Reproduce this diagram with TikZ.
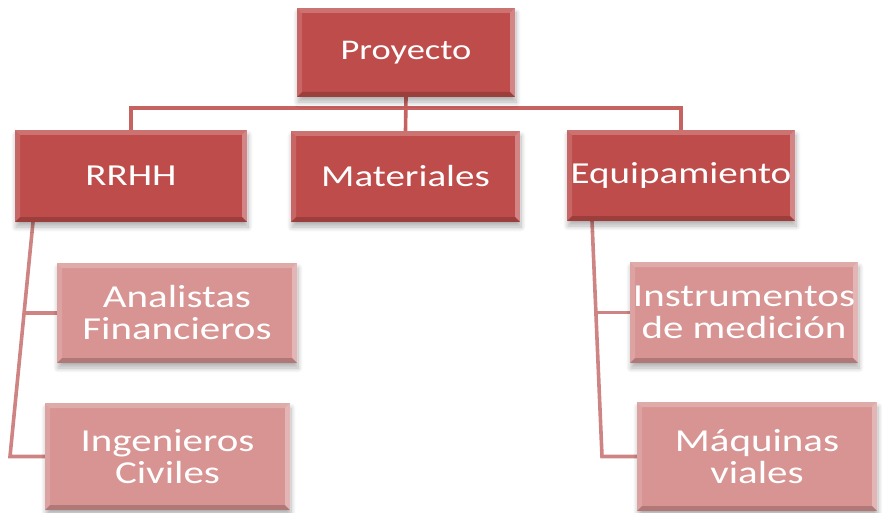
\documentclass[tikz,border=0pt]{standalone}
\usepackage{fontspec}
\setmainfont{Carlito}[FakeStretch=1.28]
\usetikzlibrary{shadows.blur,backgrounds}
\definecolor{topred}{RGB}{190,76,74}
\definecolor{lowpink}{RGB}{215,148,146}
\definecolor{lineA}{RGB}{198,98,96}
\definecolor{lineB}{RGB}{206,132,130}
\tikzset{
  bevel/.style={draw=none, inner sep=0pt, align=center, text=white,
    blur shadow={shadow xshift=1pt, shadow yshift=-5pt, shadow blur steps=8, shadow blur radius=5pt, shadow opacity=30},
    path picture={
      \fill[white,opacity=0.22] (path picture bounding box.north west) -- (path picture bounding box.north east)
        -- ([xshift=-5pt,yshift=-5pt]path picture bounding box.north east) -- ([xshift=5pt,yshift=-5pt]path picture bounding box.north west) -- cycle;
      \fill[white,opacity=0.15] (path picture bounding box.north west) -- ([xshift=5pt,yshift=-5pt]path picture bounding box.north west)
        -- ([xshift=5pt,yshift=5pt]path picture bounding box.south west) -- (path picture bounding box.south west) -- cycle;
      \fill[white,opacity=0.32] (path picture bounding box.north east) -- ([xshift=-5pt,yshift=-5pt]path picture bounding box.north east)
        -- ([xshift=-5pt,yshift=5pt]path picture bounding box.south east) -- (path picture bounding box.south east) -- cycle;
      \fill[black,opacity=0.18] (path picture bounding box.south west) -- ([xshift=5pt,yshift=5pt]path picture bounding box.south west)
        -- ([xshift=-5pt,yshift=5pt]path picture bounding box.south east) -- (path picture bounding box.south east) -- cycle;
    }},
  topbox/.style={bevel, fill=topred, font=\fontsize{30.5}{32}\selectfont},
  rootbox/.style={bevel, fill=topred, font=\fontsize{28.5}{30}\selectfont},
  lowbox/.style={bevel, fill=lowpink, font=\fontsize{32}{32}\selectfont},
  linkA/.style={draw=lineA, line width=3.6pt},
  linkB/.style={draw=lineB, line width=3.6pt},
}
\begin{document}
\begin{tikzpicture}[x=1pt,y=-1pt]
\useasboundingbox (0,0) rectangle (882,513);
\node[rootbox, minimum width=218pt, minimum height=89pt] (P) at (406,52.5) {Proyecto};
\node[topbox, minimum width=232pt, minimum height=92pt] (R) at (131,176) {RRHH};
\node[topbox, minimum width=229pt, minimum height=91pt] (M) at (405.5,176.5) {Materiales};
\node[topbox, minimum width=228pt, minimum height=91pt] (E) at (681,175.5) {Equipamiento};
\node[lowbox, minimum width=240pt, minimum height=100pt] (A) at (177,313) {Analistas\\Financieros};
\node[lowbox, minimum width=245pt, minimum height=107pt] (I) at (167.5,456.5) {Ingenieros\\Civiles};
\node[lowbox, minimum width=228pt, minimum height=101pt] (S) at (744,312.5) {Instrumentos\\de medición};
\node[lowbox, minimum width=240pt, minimum height=109pt] (Q) at (757,456.5) {Máquinas\\viales};
\coordinate (bar) at (0,108);
\coordinate (lt) at (33,222);
\coordinate (lb) at (10,456.5);
\coordinate (la) at (24,313);
\coordinate (rt) at (592,221);
\coordinate (rb) at (602,456.5);
\coordinate (ra) at (596,312.5);
\begin{pgfonlayer}{background}
  \draw[linkA] (P.south) -- (M.north);
  \draw[linkA] (R.north) |- (bar -| E.north) -- (E.north);
  \draw[linkB] (lt) -- (lb) -- (I.west);
  \draw[linkB] (la) -- (A.west);
  \draw[linkB] (rt) -- (rb) -- (Q.west);
  \draw[linkB] (ra) -- (S.west);
\end{pgfonlayer}
\end{tikzpicture}
\end{document}
